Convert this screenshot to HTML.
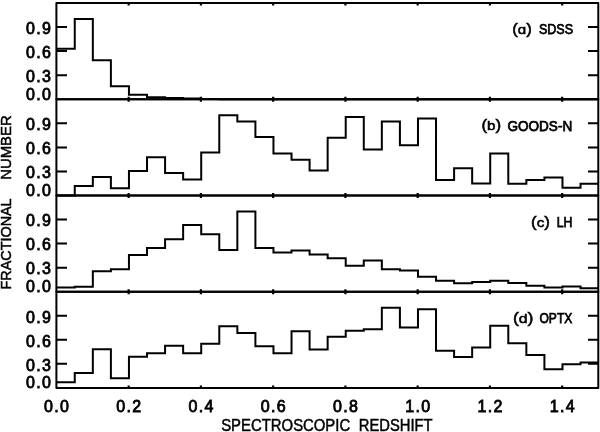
<!DOCTYPE html>
<html><head><meta charset="utf-8"><title>Redshift distributions</title><style>
html,body{margin:0;padding:0;background:#fff;overflow:hidden}
svg{display:block;will-change:transform}
text{font-family:"Liberation Sans",sans-serif;fill:#000}
.t{font-size:16px;stroke:#000;stroke-width:0.8px}
.p{font-size:13.5px;stroke:#000;stroke-width:0.55px}
.n{font-size:14px;stroke:#000;stroke-width:0.75px}
.ax{font-size:16.5px;stroke:#000;stroke-width:0.5px}
</style></head><body>
<svg width="600" height="432" viewBox="0 0 600 432">
<rect width="600" height="432" fill="#fff"/>
<path d="M56.40 48.72 H74.76 V19.04 H92.83 V60.35 H110.89 V86.18 H128.95 V94.68 H147.02 V97.16 H165.08 V98.05 H183.14 V98.61 H201.21 V98.93 H219.27 V99.25 H237.34 V99.25 H255.40 V99.25 H273.46 V99.25 H291.53 V99.25 H309.59 V99.25 H327.65 V99.25 H345.72 V99.25 H363.78 V99.25 H381.84 V99.25 H399.91 V99.25 H417.97 V99.25 H436.03 V99.25 H454.10 V99.25 H472.16 V99.25 H490.22 V99.25 H508.29 V99.25 H526.35 V99.25 H544.41 V99.25 H562.48 V99.25 H580.54 V99.25 H598.30" fill="none" stroke="#000" stroke-width="2.00" stroke-linejoin="miter"/>
<path d="M56.40 75.19H67.00M588.00 75.19H598.30" stroke="#000" stroke-width="2.00"/>
<path d="M56.40 51.12H67.00M588.00 51.12H598.30" stroke="#000" stroke-width="2.00"/>
<path d="M56.40 27.06H67.00M588.00 27.06H598.30" stroke="#000" stroke-width="2.00"/>
<path d="M128.65 3.00v2.5M128.65 99.25v-2.5" stroke="#000" stroke-width="2.2"/>
<path d="M200.91 3.00v2.5M200.91 99.25v-2.5" stroke="#000" stroke-width="2.2"/>
<path d="M273.16 3.00v2.5M273.16 99.25v-2.5" stroke="#000" stroke-width="2.2"/>
<path d="M345.42 3.00v2.5M345.42 99.25v-2.5" stroke="#000" stroke-width="2.2"/>
<path d="M417.67 3.00v2.5M417.67 99.25v-2.5" stroke="#000" stroke-width="2.2"/>
<path d="M489.92 3.00v2.5M489.92 99.25v-2.5" stroke="#000" stroke-width="2.2"/>
<path d="M562.18 3.00v2.5M562.18 99.25v-2.5" stroke="#000" stroke-width="2.2"/>
<text class="t" x="50.8" y="94.15" text-anchor="end" dominant-baseline="central" textLength="24.8">0.0</text>
<text class="t" x="50.8" y="76.49" text-anchor="end" dominant-baseline="central" textLength="24.8">0.3</text>
<text class="t" x="50.8" y="52.42" text-anchor="end" dominant-baseline="central" textLength="24.8">0.6</text>
<text class="t" x="50.8" y="28.36" text-anchor="end" dominant-baseline="central" textLength="24.8">0.9</text>
<text class="n" x="538.90" y="34.30" textLength="34.10" lengthAdjust="spacingAndGlyphs">SDSS</text>
<text class="p" x="512.20" y="34.20" textLength="19.60" lengthAdjust="spacingAndGlyphs"><tspan style="font-size:15px">(</tspan>ɑ<tspan style="font-size:15px">)</tspan></text>
<path d="M56.40 195.50 H74.76 V185.88 H92.83 V176.89 H110.89 V188.36 H128.95 V171.12 H147.02 V157.16 H165.08 V172.88 H183.14 V179.62 H201.21 V152.59 H219.27 V115.29 H237.34 V121.39 H255.40 V137.11 H273.46 V153.39 H291.53 V159.65 H309.59 V170.39 H327.65 V137.75 H345.72 V116.90 H363.78 V149.62 H381.84 V121.39 H399.91 V145.13 H417.97 V118.42 H436.03 V180.10 H454.10 V168.15 H472.16 V183.39 H490.22 V153.39 H508.29 V183.87 H526.35 V180.10 H544.41 V177.61 H562.48 V187.64 H580.54 V183.87 H598.30" fill="none" stroke="#000" stroke-width="2.00" stroke-linejoin="miter"/>
<path d="M56.40 171.44H67.00M588.00 171.44H598.30" stroke="#000" stroke-width="2.00"/>
<path d="M56.40 147.38H67.00M588.00 147.38H598.30" stroke="#000" stroke-width="2.00"/>
<path d="M56.40 123.31H67.00M588.00 123.31H598.30" stroke="#000" stroke-width="2.00"/>
<path d="M128.65 99.25v2.5M128.65 195.50v-2.5" stroke="#000" stroke-width="2.2"/>
<path d="M200.91 99.25v2.5M200.91 195.50v-2.5" stroke="#000" stroke-width="2.2"/>
<path d="M273.16 99.25v2.5M273.16 195.50v-2.5" stroke="#000" stroke-width="2.2"/>
<path d="M345.42 99.25v2.5M345.42 195.50v-2.5" stroke="#000" stroke-width="2.2"/>
<path d="M417.67 99.25v2.5M417.67 195.50v-2.5" stroke="#000" stroke-width="2.2"/>
<path d="M489.92 99.25v2.5M489.92 195.50v-2.5" stroke="#000" stroke-width="2.2"/>
<path d="M562.18 99.25v2.5M562.18 195.50v-2.5" stroke="#000" stroke-width="2.2"/>
<text class="t" x="50.8" y="190.40" text-anchor="end" dominant-baseline="central" textLength="24.8">0.0</text>
<text class="t" x="50.8" y="172.74" text-anchor="end" dominant-baseline="central" textLength="24.8">0.3</text>
<text class="t" x="50.8" y="148.68" text-anchor="end" dominant-baseline="central" textLength="24.8">0.6</text>
<text class="t" x="50.8" y="124.61" text-anchor="end" dominant-baseline="central" textLength="24.8">0.9</text>
<text class="n" x="507.40" y="130.55" textLength="64.80" lengthAdjust="spacingAndGlyphs">GOODS-N</text>
<text class="p" x="481.40" y="130.45" textLength="19.70" lengthAdjust="spacingAndGlyphs"><tspan style="font-size:15px">(</tspan>b<tspan style="font-size:15px">)</tspan></text>
<path d="M56.40 287.53 H74.76 V286.73 H92.83 V271.25 H110.89 V269.24 H128.95 V255.04 H147.02 V247.99 H165.08 V239.24 H183.14 V225.05 H201.21 V234.27 H219.27 V249.99 H237.34 V211.49 H255.40 V247.99 H273.46 V252.48 H291.53 V250.55 H309.59 V254.48 H327.65 V258.25 H345.72 V265.79 H363.78 V260.50 H381.84 V269.24 H399.91 V270.52 H417.97 V276.78 H436.03 V280.79 H454.10 V283.28 H472.16 V281.99 H490.22 V280.79 H508.29 V283.04 H526.35 V285.76 H544.41 V287.53 H562.48 V286.49 H580.54 V288.25 H598.30" fill="none" stroke="#000" stroke-width="2.00" stroke-linejoin="miter"/>
<path d="M56.40 267.64H67.00M588.00 267.64H598.30" stroke="#000" stroke-width="2.00"/>
<path d="M56.40 243.57H67.00M588.00 243.57H598.30" stroke="#000" stroke-width="2.00"/>
<path d="M56.40 219.51H67.00M588.00 219.51H598.30" stroke="#000" stroke-width="2.00"/>
<path d="M128.65 195.45v2.5M128.65 291.70v-2.5" stroke="#000" stroke-width="2.2"/>
<path d="M200.91 195.45v2.5M200.91 291.70v-2.5" stroke="#000" stroke-width="2.2"/>
<path d="M273.16 195.45v2.5M273.16 291.70v-2.5" stroke="#000" stroke-width="2.2"/>
<path d="M345.42 195.45v2.5M345.42 291.70v-2.5" stroke="#000" stroke-width="2.2"/>
<path d="M417.67 195.45v2.5M417.67 291.70v-2.5" stroke="#000" stroke-width="2.2"/>
<path d="M489.92 195.45v2.5M489.92 291.70v-2.5" stroke="#000" stroke-width="2.2"/>
<path d="M562.18 195.45v2.5M562.18 291.70v-2.5" stroke="#000" stroke-width="2.2"/>
<text class="t" x="50.8" y="286.60" text-anchor="end" dominant-baseline="central" textLength="24.8">0.0</text>
<text class="t" x="50.8" y="268.94" text-anchor="end" dominant-baseline="central" textLength="24.8">0.3</text>
<text class="t" x="50.8" y="244.88" text-anchor="end" dominant-baseline="central" textLength="24.8">0.6</text>
<text class="t" x="50.8" y="220.81" text-anchor="end" dominant-baseline="central" textLength="24.8">0.9</text>
<text class="n" x="556.80" y="226.75" textLength="15.70" lengthAdjust="spacingAndGlyphs">LH</text>
<text class="p" x="531.00" y="226.65" textLength="19.00" lengthAdjust="spacingAndGlyphs"><tspan style="font-size:15px">(</tspan>c<tspan style="font-size:15px">)</tspan></text>
<path d="M56.40 382.37 H74.76 V372.90 H92.83 V349.16 H110.89 V378.19 H128.95 V356.70 H147.02 V353.17 H165.08 V345.71 H183.14 V353.17 H201.21 V343.71 H219.27 V326.22 H237.34 V332.96 H255.40 V346.19 H273.46 V353.17 H291.53 V331.19 H309.59 V349.40 H327.65 V336.65 H345.72 V330.71 H363.78 V329.19 H381.84 V307.69 H399.91 V327.42 H417.97 V309.22 H436.03 V350.68 H454.10 V356.94 H472.16 V347.39 H490.22 V325.66 H508.29 V343.14 H526.35 V354.93 H544.41 V369.37 H562.48 V364.16 H580.54 V362.39 H598.30" fill="none" stroke="#000" stroke-width="2.00" stroke-linejoin="miter"/>
<path d="M56.40 363.84H67.00M588.00 363.84H598.30" stroke="#000" stroke-width="2.00"/>
<path d="M56.40 339.77H67.00M588.00 339.77H598.30" stroke="#000" stroke-width="2.00"/>
<path d="M56.40 315.71H67.00M588.00 315.71H598.30" stroke="#000" stroke-width="2.00"/>
<path d="M128.65 291.65v2.5M128.65 387.90v-2.5" stroke="#000" stroke-width="2.2"/>
<path d="M200.91 291.65v2.5M200.91 387.90v-2.5" stroke="#000" stroke-width="2.2"/>
<path d="M273.16 291.65v2.5M273.16 387.90v-2.5" stroke="#000" stroke-width="2.2"/>
<path d="M345.42 291.65v2.5M345.42 387.90v-2.5" stroke="#000" stroke-width="2.2"/>
<path d="M417.67 291.65v2.5M417.67 387.90v-2.5" stroke="#000" stroke-width="2.2"/>
<path d="M489.92 291.65v2.5M489.92 387.90v-2.5" stroke="#000" stroke-width="2.2"/>
<path d="M562.18 291.65v2.5M562.18 387.90v-2.5" stroke="#000" stroke-width="2.2"/>
<text class="t" x="50.8" y="382.80" text-anchor="end" dominant-baseline="central" textLength="24.8">0.0</text>
<text class="t" x="50.8" y="365.14" text-anchor="end" dominant-baseline="central" textLength="24.8">0.3</text>
<text class="t" x="50.8" y="341.07" text-anchor="end" dominant-baseline="central" textLength="24.8">0.6</text>
<text class="t" x="50.8" y="317.01" text-anchor="end" dominant-baseline="central" textLength="24.8">0.9</text>
<text class="n" x="539.50" y="322.95" textLength="32.80" lengthAdjust="spacingAndGlyphs">OPTX</text>
<text class="p" x="512.90" y="322.85" textLength="20.60" lengthAdjust="spacingAndGlyphs"><tspan style="font-size:15px">(</tspan>d<tspan style="font-size:15px">)</tspan></text>
<rect x="56.40" y="3.00" width="541.90" height="96.25" fill="none" stroke="#000" stroke-width="2.00" stroke-linejoin="round"/>
<rect x="56.40" y="99.25" width="541.90" height="96.25" fill="none" stroke="#000" stroke-width="2.00" stroke-linejoin="round"/>
<rect x="56.40" y="195.45" width="541.90" height="96.25" fill="none" stroke="#000" stroke-width="2.00" stroke-linejoin="round"/>
<rect x="56.40" y="291.65" width="541.90" height="96.25" fill="none" stroke="#000" stroke-width="2.00" stroke-linejoin="round"/>
<text class="t" x="56.40" y="411.5" text-anchor="middle" textLength="24.8">0.0</text>
<text class="t" x="128.65" y="411.5" text-anchor="middle" textLength="24.8">0.2</text>
<text class="t" x="200.91" y="411.5" text-anchor="middle" textLength="24.8">0.4</text>
<text class="t" x="273.16" y="411.5" text-anchor="middle" textLength="24.8">0.6</text>
<text class="t" x="345.42" y="411.5" text-anchor="middle" textLength="24.8">0.8</text>
<text class="t" x="417.67" y="411.5" text-anchor="middle" textLength="24.8">1.0</text>
<text class="t" x="489.92" y="411.5" text-anchor="middle" textLength="24.8">1.2</text>
<text class="t" x="562.18" y="411.5" text-anchor="middle" textLength="24.8">1.4</text>
<text class="ax" x="221.2" y="430.6" textLength="129" lengthAdjust="spacingAndGlyphs">SPECTROSCOPIC</text>
<text class="ax" x="358.8" y="430.6" textLength="73.8" lengthAdjust="spacingAndGlyphs">REDSHIFT</text>
<text class="ax" transform="translate(11.2,289.4) rotate(-90)" x="0" y="0" style="font-size:15.5px" textLength="91" lengthAdjust="spacingAndGlyphs">FRACTIONAL</text>
<text class="ax" transform="translate(11.2,179.8) rotate(-90)" x="0" y="0" style="font-size:15.5px" textLength="64.5" lengthAdjust="spacingAndGlyphs">NUMBER</text>
</svg></body></html>
